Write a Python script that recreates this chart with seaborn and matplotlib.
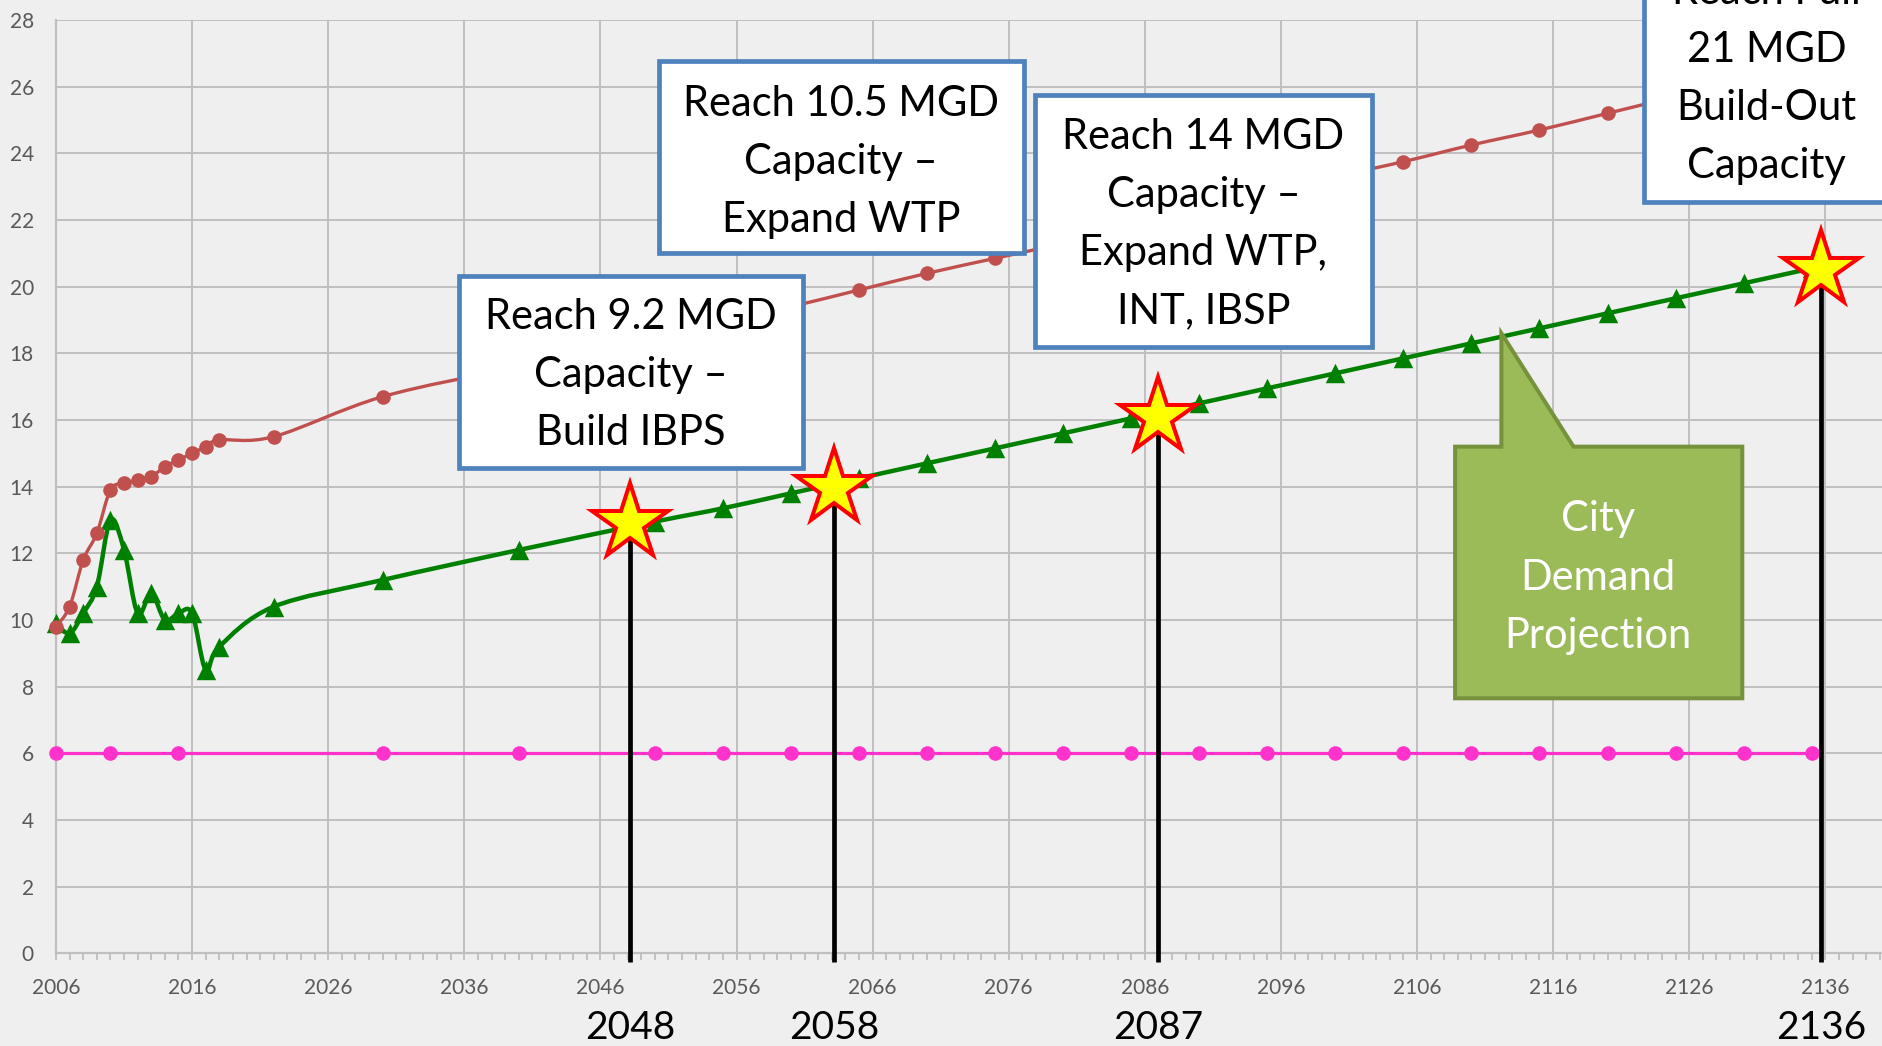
import numpy as np
import pandas as pd
import matplotlib.pyplot as plt
import seaborn as sns
from matplotlib.path import Path
from matplotlib.patches import PathPatch, Rectangle, Polygon
from matplotlib.markers import MarkerStyle

# ==========================================
# DATA
# ==========================================
# constant line
pink_years = [2006, 2010, 2015, 2030, 2040, 2050, 2055, 2060, 2065, 2070, 2075, 2080,
              2085, 2090, 2095, 2100, 2105, 2110, 2115, 2120, 2125, 2130, 2135]
pink_mgd = [6, 6, 6, 6, 6, 6, 6, 6, 6, 6, 6, 6,
            6, 6, 6, 6, 6, 6, 6, 6, 6, 6, 6]

series_years = [2006, 2007, 2008, 2009, 2010, 2011, 2012, 2013, 2014, 2015, 2016, 2017,
                2018, 2022, 2030, 2040, 2050, 2055, 2060, 2065, 2070, 2075, 2080, 2085,
                2090, 2095, 2100, 2105, 2110, 2115, 2120, 2125, 2130, 2135]
red_mgd = [9.8, 10.4, 11.8, 12.6, 13.9, 14.1, 14.2, 14.3, 14.6, 14.8, 15.0, 15.2,
           15.4, 15.5, 16.7, 17.6, 18.5, 18.95, 19.4, 19.9, 20.4, 20.85, 21.3, 21.8,
           22.3, 22.8, 23.3, 23.75, 24.25, 24.7, 25.2, 25.7, 26.2, 26.65]
# city demand projection
green_mgd = [9.9, 9.6, 10.2, 11.0, 13.0, 12.1, 10.2, 10.8, 10.0, 10.2, 10.2, 8.5,
             9.2, 10.4, 11.2, 12.1, 12.95, 13.35, 13.8, 14.25, 14.7, 15.15, 15.6, 16.05,
             16.5, 16.95, 17.4, 17.85, 18.3, 18.75, 19.2, 19.65, 20.1, 20.55]

# milestones (stars + drop lines)
star_x = [2048.2, 2063.2, 2087.0, 2135.7]
star_y = [12.9, 13.95, 16.1, 20.5]
star_labels = ['2048', '2058', '2087', '2136']

box_texts = ['Reach 9.2 MGD\nCapacity –\nBuild IBPS',
             'Reach 10.5 MGD\nCapacity –\nExpand WTP',
             'Reach 14 MGD\nCapacity –\nExpand WTP,\nINT, IBSP',
             'Reach Full\n21 MGD\nBuild-Out\nCapacity']
callout_text = 'City\nDemand\nProjection'

# ==========================================
# STYLE
# ==========================================
BG = '#EFEFEF'
GRID = '#BFBFBF'
PINK = '#FF33CC'
RED = '#C0504D'
GREEN = '#008000'
BLUE = '#4F81BD'

sns.set_theme(style='white')
plt.rcParams['font.family'] = ['Lato', 'DejaVu Sans']

fig = plt.figure(figsize=(18.83, 10.46), dpi=100, facecolor=BG)
ax = fig.add_axes([56 / 1883, 1 - 953.3 / 1046, 1 - 56 / 1883, 933.3 / 1046])
ax.set_facecolor(BG)


def smooth_line(ax, xs, ys, color, lw, zorder):
    # Excel-style smoothed line: bezier segments through the data points
    pts = list(zip(xs, ys))
    verts, codes = [pts[0]], [Path.MOVETO]
    for i in range(len(pts) - 1):
        p0 = pts[max(i - 1, 0)]
        p1, p2 = pts[i], pts[i + 1]
        p3 = pts[min(i + 2, len(pts) - 1)]
        c1 = (p1[0] + (p2[0] - p0[0]) / 6, p1[1] + (p2[1] - p0[1]) / 6)
        c2 = (p2[0] - (p3[0] - p1[0]) / 6, p2[1] - (p3[1] - p1[1]) / 6)
        verts += [c1, c2, p2]
        codes += [Path.CURVE4] * 3
    ax.add_patch(PathPatch(Path(verts, codes), facecolor='none', edgecolor=color,
                           lw=lw, capstyle='round', joinstyle='round', zorder=zorder,
                           clip_on=False))


# ==========================================
# SERIES
# ==========================================
sns.lineplot(x=pink_years, y=pink_mgd, color=PINK, lw=2.3, marker='o', markersize=10.5,
             markeredgewidth=0, ax=ax, zorder=3, clip_on=False)

smooth_line(ax, series_years, green_mgd, GREEN, 3.2, 3.1)
sns.scatterplot(x=series_years, y=green_mgd, color=GREEN, marker='^', s=14 ** 2,
                linewidth=0, ax=ax, zorder=3.2, clip_on=False)

smooth_line(ax, series_years, red_mgd, RED, 2.4, 3.3)
sns.scatterplot(x=series_years, y=red_mgd, color=RED, marker='o', s=10.5 ** 2,
                linewidth=0, ax=ax, zorder=3.4, clip_on=False)

# milestone drop lines and stars
ax.vlines(star_x, -0.25, star_y, colors='black', lw=3.4, zorder=5, clip_on=False)
ax.plot(star_x, star_y, linestyle='none', marker=MarkerStyle('*', joinstyle='miter'),
        ms=57, mfc='#FFFF00', mec='#FF0000', mew=2.9, zorder=6, clip_on=False)
for x, lab in zip(star_x, star_labels):
    ax.text(x, -2.58, lab, ha='center', va='baseline', fontsize=28, color='black')

# ==========================================
# AXES
# ==========================================
ax.set_xlim(2006, 2006 + 1827 / 13.61)
ax.set_ylim(0, 28)
ax.set_xticks(np.arange(2006, 2137, 10))
ax.set_xticks(np.arange(2006, 2141, 1), minor=True)
ax.set_yticks(np.arange(0, 29, 2))
ax.tick_params(axis='x', which='both', direction='out', length=5, width=1.3,
               color=GRID, bottom=True)
ax.tick_params(axis='x', which='major', labelsize=15, labelcolor='#595959', pad=12.5)
ax.tick_params(axis='y', length=0, labelsize=15, labelcolor='#595959', pad=16)
ax.grid(True, which='major', color=GRID, lw=1.4)
ax.set_axisbelow(True)
for side in ['top', 'right']:
    ax.spines[side].set_visible(False)
for side in ['left', 'bottom']:
    ax.spines[side].set_color(GRID)
    ax.spines[side].set_linewidth(1.6)
ax.set_xlabel('')
ax.set_ylabel('')

# ==========================================
# ANNOTATION BOXES
# ==========================================
# (left, bottom, right, top) in data units, text centre
box_frames = [(2035.6, 14.56, 2060.9, 20.32),
              (2050.3, 21.0, 2077.1, 26.77),
              (2077.9, 18.2, 2102.7, 25.75),
              (2122.7, 22.55, 2146.0, 30.5)]
text_pos = [(2048.25, 17.35), (2063.7, 23.73), (2090.3, 21.87), (2131.7, 26.23)]

for (x0, y0, x1, y1), (tx, ty), txt in zip(box_frames, text_pos, box_texts):
    ax.add_patch(Rectangle((x0, y0), x1 - x0, y1 - y0, facecolor='white', edgecolor=BLUE,
                           lw=3.4, joinstyle='miter', zorder=7, clip_on=False))
    ax.text(tx, ty, txt, ha='center', va='center', fontsize=30, color='black',
            linespacing=1.65, zorder=8)

# speech-bubble callout pointing at the demand line
callout = [(2108.8, 15.2), (2112.2, 15.2), (2112.2, 18.6), (2117.5, 15.2),
           (2129.9, 15.2), (2129.9, 7.65), (2108.8, 7.65)]
ax.add_patch(Polygon(callout, closed=True, facecolor='#9BBB59', edgecolor='#76923C',
                     lw=2.9, joinstyle='miter', zorder=7))
ax.text(2119.3, 11.27, callout_text, ha='center', va='center', fontsize=30, color='white',
        linespacing=1.65, zorder=8)

fig.savefig('out.png', dpi=100, facecolor=BG)
